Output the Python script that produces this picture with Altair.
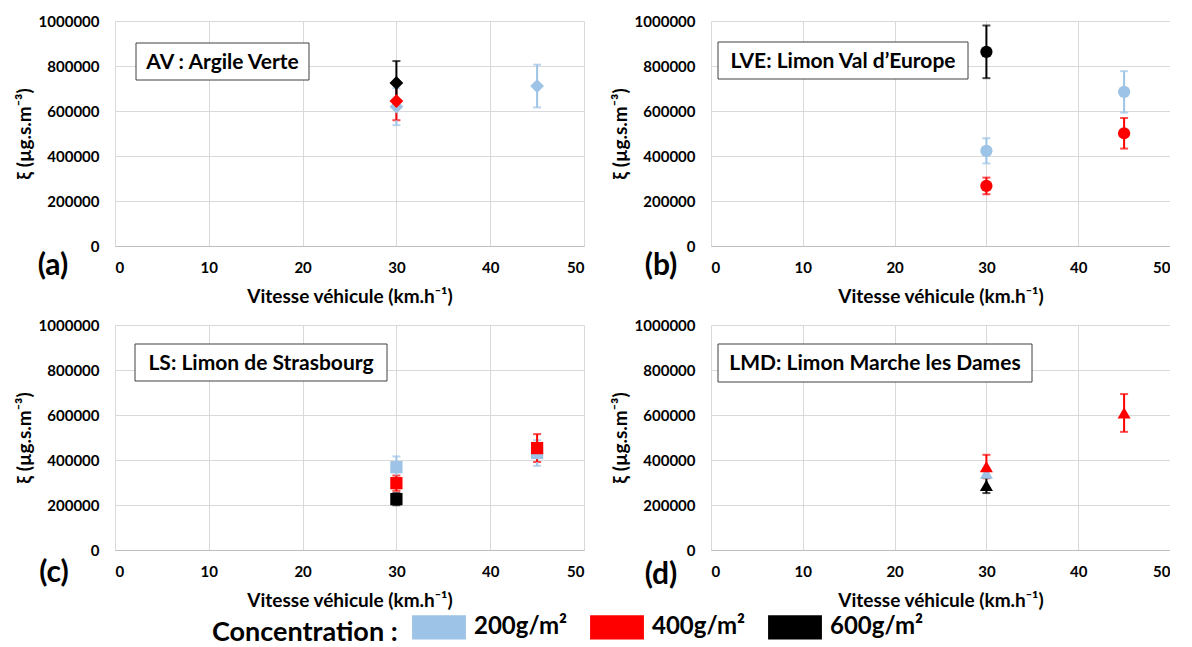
import altair as alt
import pandas as pd

FONT = "Lato"
CONC = ["200g/m²", "400g/m²", "600g/m²"]
COLORS = ["#9dc3e6", "#ff0000", "#000000"]
X_TICKS = [0, 10, 20, 30, 40, 50]
Y_TICKS = [0, 200000, 400000, 600000, 800000, 1000000]

# (a) AV : Argile Verte
a_speed = [30, 30, 30, 45]
a_conc = ["200g/m²", "400g/m²", "600g/m²", "200g/m²"]
a_val = [619000, 644000, 725000, 711000]
a_err = [82000, 85000, 97000, 95000]

# (b) LVE: Limon Val d'Europe
b_speed = [30, 30, 30, 45, 45]
b_conc = ["200g/m²", "400g/m²", "600g/m²", "200g/m²", "400g/m²"]
b_val = [423000, 267000, 863000, 685000, 501000]
b_err = [56000, 37000, 117000, 92000, 68000]

# (c) LS: Limon de Strasbourg
c_speed = [30, 30, 30, 45, 45]
c_conc = ["200g/m²", "400g/m²", "600g/m²", "200g/m²", "400g/m²"]
c_val = [368000, 297000, 226000, 431000, 453000]
c_err = [48000, 34000, 27000, 57000, 62000]

# (d) LMD: Limon Marche les Dames
d_speed = [30, 30, 30, 45]
d_conc = ["200g/m²", "400g/m²", "600g/m²", "400g/m²"]
d_val = [342000, 371000, 287000, 609000]
d_err = [20000, 52000, 34000, 84000]

H = 225


def scale():
    return alt.Scale(domain=CONC, range=COLORS)


def legend():
    return alt.Legend(
        title="Concentration :", orient="none", legendX=97, legendY=579,
        direction="horizontal", titleOrient="left", titleFont=FONT, titleFontSize=27,
        titleFontWeight="bold", titleColor="black", titlePadding=14, titleBaseline="top",
        titleLimit=0, labelFont=FONT, labelFontSize=24, labelFontWeight="bold",
        labelColor="black", symbolType="M-1,-0.45H1V0.45H-1Z", symbolSize=2900,
        symbolStrokeWidth=0, symbolOpacity=1, labelOffset=8, columnPadding=22, labelLimit=0,
    )


def panel(speed, conc, val, err, shape, size, label, box, letter, letter_pos, width):
    df = pd.DataFrame({"speed": speed, "conc": conc, "val": val, "err": err})
    df["lo"] = df["val"] - df["err"]
    df["hi"] = df["val"] + df["err"]
    base = alt.Chart(df)
    x = alt.X("speed:Q", scale=alt.Scale(domain=[0, 50], nice=False),
              axis=alt.Axis(values=X_TICKS, title="Vitesse véhicule (km.h⁻¹)", grid=True,
                            domain=True, domainColor="#bfbfbf", ticks=False, tickSize=0,
                            labelPadding=14, titlePadding=12))
    yax = alt.Axis(values=Y_TICKS, format="d", title="ξ (µg.s.m⁻³)", grid=True,
                   domain=False, ticks=False, tickSize=0, labelPadding=16, titlePadding=4)
    cap_lo = base.mark_tick(orient="horizontal", size=8, thickness=2).encode(
        x=x, y=alt.Y("lo:Q", scale=alt.Scale(domain=[0, 1000000], nice=False), axis=yax),
        color=alt.Color("conc:N", scale=scale(), legend=legend()))
    cap_hi = base.mark_tick(orient="horizontal", size=8, thickness=2).encode(
        x=x, y="hi:Q", color=alt.Color("conc:N", scale=scale(), legend=legend()))
    rules = base.mark_rule(strokeWidth=2).encode(
        x=x, y="lo:Q", y2="hi:Q", stroke=alt.Stroke("conc:N", scale=scale(), legend=legend()))
    pts = base.mark_point(shape=shape, filled=True, size=size, opacity=1).encode(
        x=x, y="val:Q", fill=alt.Fill("conc:N", scale=scale(), legend=legend()))
    bx0, by0, bx1, by1 = box
    tdf = pd.DataFrame({"label": [label]})
    rect = alt.Chart(tdf).mark_rect(fill="white", stroke="#404040", strokeWidth=1).encode(
        x=alt.value(bx0), x2=alt.value(bx1), y=alt.value(by0), y2=alt.value(by1))
    txt = alt.Chart(tdf).mark_text(font=FONT, fontSize=21, fontWeight="bold", color="black",
                                   align="center", baseline="middle").encode(
        x=alt.value((bx0 + bx1) / 2), y=alt.value((by0 + by1) / 2 + 1), text="label:N")
    ldf = pd.DataFrame({"letter": [letter]})
    let = alt.Chart(ldf).mark_text(font=FONT, fontSize=30, fontWeight="bold", color="black",
                                   align="center", baseline="middle").encode(
        x=alt.value(letter_pos[0]), y=alt.value(letter_pos[1]), text="letter:N")
    return alt.layer(cap_lo, cap_hi, rules, pts, rect, txt, let).properties(width=width, height=H)


pa = panel(a_speed, a_conc, a_val, a_err, "diamond", 190, "AV : Argile Verte",
           (21, 22, 194, 59), "(a)", (-62, 245), 469)
pb = panel(b_speed, b_conc, b_val, b_err, "circle", 150, "LVE: Limon Val d’Europe",
           (7, 21, 257, 58), "(b)", (-50, 245), 459)
pc = panel(c_speed, c_conc, c_val, c_err, "square", 150, "LS: Limon de Strasbourg",
           (20, 19, 272, 56), "(c)", (-61, 248), 469)
pd_ = panel(d_speed, d_conc, d_val, d_err, "triangle-up", 170, "LMD: Limon Marche les Dames",
            (7, 19, 321, 57), "(d)", (-50, 250), 459)

chart = alt.vconcat(
    alt.hconcat(pa, pb, spacing=27),
    alt.hconcat(pc, pd_, spacing=27),
    spacing=12,
).properties(
    padding={"left": 7, "top": 6, "right": 0, "bottom": 0}
).configure_view(stroke=None).configure_axis(
    gridColor="#d9d9d9", gridWidth=1, labelFont=FONT, labelFontSize=15, labelFontWeight="bold",
    labelColor="black", titleFont=FONT, titleFontSize=19, titleFontWeight="bold", titleColor="black",
)

chart.save("out.html", embed_options={"renderer": "svg", "actions": False})
